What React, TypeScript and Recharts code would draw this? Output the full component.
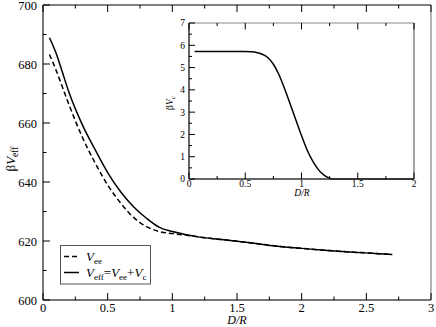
import { LineChart, Line, XAxis, YAxis } from "recharts";

// main panel: D/R and the two effective potentials
const dMain = [0.05, 0.1, 0.15, 0.2, 0.3, 0.4, 0.5, 0.6, 0.7, 0.8, 0.9, 1.0, 1.1, 1.2, 1.4, 1.6, 1.8, 2.0, 2.2, 2.4, 2.6, 2.7];
const vEe = [683.2, 678.0, 672.2, 666.3, 655.6, 646.7, 639.0, 632.9, 628.0, 624.9, 623.2, 622.5, 622.0, 621.4, 620.4, 619.4, 618.3, 617.5, 616.8, 616.2, 615.7, 615.4];
const vEff = [688.9, 683.8, 677.2, 670.5, 659.8, 651.2, 643.2, 636.7, 631.6, 627.7, 624.6, 623.2, 622.2, 621.4, 620.4, 619.4, 618.3, 617.5, 616.8, 616.2, 615.7, 615.4];

// inset: correction potential
const dInset = [0.05, 0.3, 0.5, 0.55, 0.6, 0.65, 0.7, 0.75, 0.8, 0.85, 0.9, 0.95, 1.0, 1.05, 1.1, 1.15, 1.2, 1.25, 1.27, 1.5, 2.0];
const vC = [5.72, 5.72, 5.72, 5.71, 5.68, 5.6, 5.45, 5.15, 4.68, 4.05, 3.35, 2.65, 1.95, 1.3, 0.8, 0.42, 0.17, 0.03, 0, 0, 0];

const mainXTicks = [0, 0.25, 0.5, 0.75, 1, 1.25, 1.5, 1.75, 2, 2.25, 2.5, 2.75, 3];
const mainYTicks = [600, 610, 620, 630, 640, 650, 660, 670, 680, 690, 700];
const insetXTicks = [0, 0.25, 0.5, 0.75, 1, 1.25, 1.5, 1.75, 2];
const insetYTicks = [0, 0.5, 1, 1.5, 2, 2.5, 3, 3.5, 4, 4.5, 5, 5.5, 6, 6.5, 7];

const mainData = dMain.map((d, i) => ({ d, ee: vEe[i], eff: vEff[i] }));
const insetData = dInset.map((d, i) => ({ d, c: vC[i] }));

const FONT = "'Liberation Serif', 'Times New Roman', serif";

type Side = "bottom" | "left" | "top" | "right";

const every = (step: number) => (v: number) => Math.abs(v / step - Math.round(v / step)) < 1e-6;

function tickFn(side: Side, isMajor: (v: number) => boolean, big: number, small: number, fs: number, labels: boolean, gap: number) {
  return (props: any) => {
    const { x, y, payload } = props;
    const v = payload.value as number;
    const maj = isMajor(v);
    const len = maj ? big : small;
    let line;
    let text = null;
    if (side === "bottom") {
      line = <line x1={x} y1={y} x2={x} y2={y - len} stroke="#000" />;
      if (labels && maj)
        text = (
          <text x={x} y={y + gap} textAnchor="middle" fontSize={fs} fontFamily={FONT} fill="#000">
            {String(v)}
          </text>
        );
    } else if (side === "top") {
      line = <line x1={x} y1={y} x2={x} y2={y + len} stroke="#000" />;
    } else if (side === "left") {
      line = <line x1={x} y1={y} x2={x + len} y2={y} stroke="#000" />;
      if (labels && maj)
        text = (
          <text x={x - gap} y={y + fs * 0.36} textAnchor="end" fontSize={fs} fontFamily={FONT} fill="#000">
            {String(v)}
          </text>
        );
    } else {
      line = <line x1={x} y1={y} x2={x - len} y2={y} stroke="#000" />;
    }
    return (
      <g>
        {line}
        {text}
      </g>
    );
  };
}

// axes need a non-zero size to be drawn, so each is 1px and the margins shrink by 1
function MainChart() {
  const majX = every(0.5);
  const majY = every(20);
  return (
    <LineChart width={436} height={327} data={mainData} margin={{ top: 4, right: 4, bottom: 26, left: 42 }}>
      <XAxis xAxisId="b" dataKey="d" type="number" domain={[0, 3]} ticks={mainXTicks} interval={0} height={1}
        tickSize={0} tickMargin={0} tickLine={false} axisLine={{ stroke: "#777", strokeWidth: 2 }}
        tick={tickFn("bottom", majX, 7, 3.5, 12.5, true, 12)} />
      <XAxis xAxisId="t" orientation="top" dataKey="d" type="number" domain={[0, 3]} ticks={mainXTicks} interval={0} height={1}
        tickSize={0} tickMargin={0} tickLine={false} axisLine={{ stroke: "#000", strokeWidth: 1 }}
        tick={tickFn("top", majX, 7, 3.5, 12.5, false, 0)} />
      <YAxis yAxisId="l" type="number" domain={[600, 700]} ticks={mainYTicks} interval={0} width={1}
        tickSize={0} tickMargin={0} tickLine={false} axisLine={{ stroke: "#777", strokeWidth: 2 }}
        tick={tickFn("left", majY, 7, 3.5, 12.5, true, 6)} />
      <YAxis yAxisId="r" orientation="right" type="number" domain={[600, 700]} ticks={mainYTicks} interval={0} width={1}
        tickSize={0} tickMargin={0} tickLine={false} axisLine={{ stroke: "#666", strokeWidth: 1 }}
        tick={tickFn("right", majY, 7, 3.5, 12.5, false, 0)} />
      <Line xAxisId="b" yAxisId="l" type="monotone" dataKey="ee" stroke="#000" strokeWidth={1.5}
        strokeDasharray="5 3" dot={false} isAnimationActive={false} />
      <Line xAxisId="b" yAxisId="l" type="monotone" dataKey="eff" stroke="#000" strokeWidth={1.5}
        dot={false} isAnimationActive={false} />
    </LineChart>
  );
}

function InsetChart() {
  const majX = every(0.5);
  const majY = every(1);
  return (
    <LineChart width={280} height={190} data={insetData} margin={{ top: 12, right: 15, bottom: 20, left: 38 }}>
      <XAxis xAxisId="b" dataKey="d" type="number" domain={[0, 2]} ticks={insetXTicks} interval={0} height={1}
        tickSize={0} tickMargin={0} tickLine={false} axisLine={{ stroke: "#333", strokeWidth: 1.5 }}
        tick={tickFn("bottom", majX, 6.5, 3, 9.5, true, 8)} />
      <XAxis xAxisId="t" orientation="top" dataKey="d" type="number" domain={[0, 2]} ticks={insetXTicks} interval={0} height={1}
        tickSize={0} tickMargin={0} tickLine={false} axisLine={{ stroke: "#888", strokeWidth: 1 }}
        tick={tickFn("top", majX, 6.5, 3, 9.5, false, 0)} />
      <YAxis yAxisId="l" type="number" domain={[0, 7]} ticks={insetYTicks} interval={0} width={1}
        tickSize={0} tickMargin={0} tickLine={false} axisLine={{ stroke: "#333", strokeWidth: 1.5 }}
        tick={tickFn("left", majY, 6, 3, 9.5, true, 4)} />
      <YAxis yAxisId="r" orientation="right" type="number" domain={[0, 7]} ticks={insetYTicks} interval={0} width={1}
        tickSize={0} tickMargin={0} tickLine={false} axisLine={{ stroke: "#444", strokeWidth: 1 }}
        tick={tickFn("right", majY, 6, 3, 9.5, false, 0)} />
      <Line xAxisId="b" yAxisId="l" type="monotone" dataKey="c" stroke="#000" strokeWidth={1.5}
        dot={false} isAnimationActive={false} />
    </LineChart>
  );
}

function Overlay() {
  return (
    <svg width={436} height={327} style={{ position: "absolute", left: 0, top: 0, pointerEvents: "none" }} fontFamily={FONT}>
      {/* main axis titles */}
      <text x={237} y={324} textAnchor="middle" fontSize={12} fontStyle="italic">D/R</text>
      <text transform="rotate(-90 11 159)" x={11} y={163} textAnchor="middle" fontSize={13}>
        β<tspan fontStyle="italic">V</tspan>
        <tspan fontSize={9.5} dy={3}>eff</tspan>
      </text>
      {/* inset titles */}
      <text x={302} y={196} textAnchor="middle" fontSize={9.5} fontStyle="italic">D/R</text>
      <text transform="rotate(-90 170 103)" x={170} y={106} textAnchor="middle" fontSize={9.5}>
        β<tspan fontStyle="italic">V</tspan>
        <tspan fontSize={7} dy={2}>c</tspan>
      </text>
      {/* legend */}
      <rect x={60.5} y={245.5} width={90} height={38.5} fill="#fff" stroke="#555" strokeWidth={1} />
      <line x1={64} y1={256.5} x2={79} y2={256.5} stroke="#000" strokeWidth={1.5} strokeDasharray="5 3" />
      <text x={86} y={261} fontSize={13}>
        <tspan fontStyle="italic">V</tspan>
        <tspan fontSize={9} dy={3}>ee</tspan>
      </text>
      <line x1={64} y1={272.5} x2={79} y2={272.5} stroke="#000" strokeWidth={1.5} />
      <text x={86} y={277} fontSize={13}>
        <tspan fontStyle="italic">V</tspan>
        <tspan fontSize={9} dy={3}>eff</tspan>
        <tspan dy={-3}>=</tspan>
        <tspan fontStyle="italic">V</tspan>
        <tspan fontSize={9} dy={3}>ee</tspan>
        <tspan dy={-3}>+</tspan>
        <tspan fontStyle="italic">V</tspan>
        <tspan fontSize={9} dy={3}>c</tspan>
      </text>
    </svg>
  );
}

export default function App() {
  return (
    <div style={{ position: "relative", width: 436, height: 327, background: "#fff", fontFamily: FONT }}>
      <style>{`body{margin:0}`}</style>
      <MainChart />
      <div style={{ position: "absolute", left: 150, top: 10 }}>
        <InsetChart />
      </div>
      <Overlay />
    </div>
  );
}
